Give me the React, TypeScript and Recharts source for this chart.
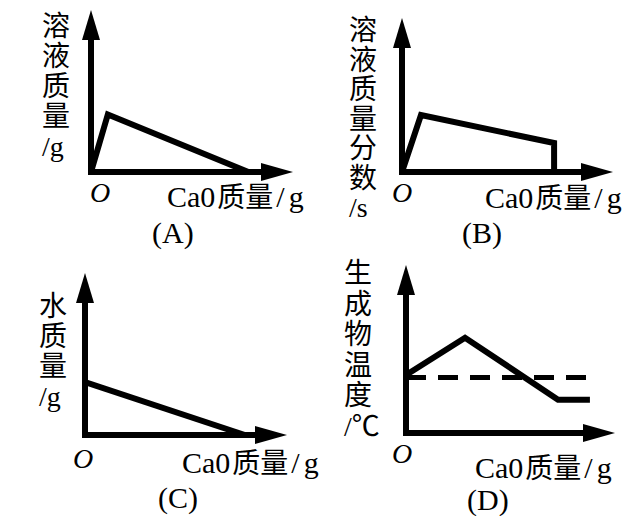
import React from 'react';
import { LineChart, Line, XAxis, YAxis, ReferenceLine, ReferenceDot } from 'recharts';

// ---- data (schematic values) ----
const X_MAX = 12;
const Y_MAX = 10;

const curveAX = [0, 1.0, 9.35];
const curveAY = [0, 3.55, 0];

const curveBX = [0, 1.08, 8.65, 8.65];
const curveBY = [0, 3.7, 1.88, 0];

const curveCX = [0, 9.5];
const curveCY = [3.27, 0];

const curveDX = [0, 3.39, 8.73, 10.56];
const curveDY = [3.45, 5.67, 1.98, 1.98];
const dashDX = [0, 10.56];
const dashDY = [3.3, 3.3];

const yLabelA = ['溶', '液', '质', '量', '/g'];
const yLabelB = ['溶', '液', '质', '量', '分', '数', '/s'];
const yLabelC = ['水', '质', '量', '/g'];
const yLabelD = ['生', '成', '物', '温', '度', '/℃'];
const xLabelParts = ['Ca0', '质量', '/', 'g'];
const originLabel = 'O';
const captions = ['(A)', '(B)', '(C)', '(D)'];

const toPoints = (xs: number[], ys: number[]) => xs.map((x, i) => ({ x, y: ys[i] }));

const FONT = "'Liberation Serif', 'Noto Sans CJK SC', serif";

const ArrowRight = (props: any) => {
  const { cx, cy } = props;
  return <polygon points={`${cx},${cy} ${cx - 32},${cy - 9} ${cx - 32},${cy + 9}`} fill="#000" />;
};
const ArrowUp = (props: any) => {
  const { cx, cy } = props;
  return <polygon points={`${cx},${cy} ${cx - 9},${cy + 30} ${cx + 9},${cy + 30}`} fill="#000" />;
};

type LineSpec = { xs: number[]; ys: number[]; dashed?: boolean };

function Panel({ left, top, w, h, margin, lines }: { left: number; top: number; w: number; h: number; margin: any; lines: LineSpec[] }) {
  return (
    <div style={{ position: 'absolute', left, top }}>
      <LineChart width={w} height={h} margin={margin}>
        <XAxis type="number" dataKey="x" domain={[0, X_MAX]} hide allowDataOverflow />
        <YAxis type="number" dataKey="y" domain={[0, Y_MAX]} hide allowDataOverflow />
        <ReferenceLine segment={[{ x: 0, y: 0 }, { x: X_MAX - 1, y: 0 }]} stroke="#000" strokeWidth={6} strokeLinecap="square" ifOverflow="visible" />
        <ReferenceLine segment={[{ x: 0, y: 0 }, { x: 0, y: Y_MAX - 1 }]} stroke="#000" strokeWidth={6} strokeLinecap="square" ifOverflow="visible" />
        <ReferenceDot x={X_MAX} y={0} r={1} shape={ArrowRight} ifOverflow="visible" />
        <ReferenceDot x={0} y={Y_MAX} r={1} shape={ArrowUp} ifOverflow="visible" />
        {lines.map((l, i) => (
          <Line
            key={i}
            data={toPoints(l.xs, l.ys)}
            dataKey="y"
            type="linear"
            stroke="#000"
            strokeWidth={l.dashed ? 5 : 6}
            strokeDasharray={l.dashed ? '20 12' : undefined}
            strokeLinejoin="miter"
            dot={false}
            activeDot={false}
            isAnimationActive={false}
          />
        ))}
      </LineChart>
    </div>
  );
}

function VLabel({ x, y0, step, chars }: { x: number; y0: number; step: number; chars: string[] }) {
  return (
    <text x={x} y={y0} fontSize={28} fontFamily={FONT} fill="#000">
      {chars.map((c, i) => (
        <tspan key={i} x={x} y={y0 + i * step}>{c}</tspan>
      ))}
    </text>
  );
}

function AxisTexts({ ox, oy, lx, ly, cx, cy, cap }: any) {
  return (
    <g fontFamily={FONT} fill="#000">
      <text x={ox} y={oy} fontSize={28} fontStyle="italic">{originLabel}</text>
      <text x={lx} y={ly} fontSize={30}>
        <tspan>{xLabelParts[0]}</tspan>
        <tspan dx={2} fontSize={28}>{xLabelParts[1]}</tspan>
        <tspan dx={3}>{xLabelParts[2]}</tspan>
        <tspan dx={4}>{xLabelParts[3]}</tspan>
      </text>
      <text x={cx} y={cy} fontSize={30}>{cap}</text>
    </g>
  );
}

export default function App() {
  return (
    <div style={{ position: 'absolute', left: 0, top: 0, width: 640, height: 516, background: '#fff', overflow: 'hidden' }}>
      <Panel left={0} top={0} w={320} h={250} margin={{ left: 91, top: 10, right: 27, bottom: 78 }}
        lines={[{ xs: curveAX, ys: curveAY }]} />
      <Panel left={320} top={0} w={320} h={250} margin={{ left: 82, top: 18, right: 27, bottom: 78 }}
        lines={[{ xs: curveBX, ys: curveBY }]} />
      <Panel left={0} top={250} w={320} h={266} margin={{ left: 85, top: 23, right: 33, bottom: 81 }}
        lines={[{ xs: curveCX, ys: curveCY }]} />
      <Panel left={320} top={250} w={320} h={266} margin={{ left: 86, top: 15, right: 25, bottom: 83 }}
        lines={[{ xs: dashDX, ys: dashDY, dashed: true }, { xs: curveDX, ys: curveDY }]} />
      <svg width={640} height={516} style={{ position: 'absolute', left: 0, top: 0, pointerEvents: 'none' }}>
        <VLabel x={42} y0={36} step={30} chars={yLabelA} />
        <VLabel x={349} y0={40} step={29.5} chars={yLabelB} />
        <VLabel x={39} y0={316} step={30} chars={yLabelC} />
        <VLabel x={344} y0={283} step={30.5} chars={yLabelD} />
        <AxisTexts ox={90} oy={202} lx={167} ly={207} cx={152} cy={243} cap={captions[0]} />
        <AxisTexts ox={392} oy={202} lx={485} ly={208} cx={462} cy={243} cap={captions[1]} />
        <AxisTexts ox={73} oy={468} lx={182} ly={473} cx={158} cy={508} cap={captions[2]} />
        <AxisTexts ox={392} oy={463} lx={475} ly={478} cx={467} cy={510} cap={captions[3]} />
      </svg>
    </div>
  );
}
